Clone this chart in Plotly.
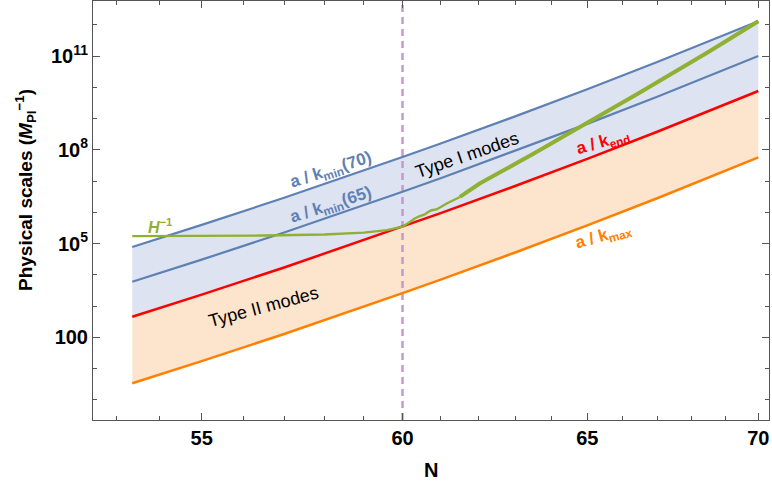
import plotly.graph_objects as go

# ---------------- data ----------------
N_lines = [53.37, 55, 57, 59, 60, 61, 63, 65, 67, 70]
a_kmin70 = [7.73e4, 3.94e5, 2.91e6, 2.15e7, 5.85e7, 1.59e8, 1.17e9, 8.67e9, 6.41e10, 1.29e12]
a_kmin65 = [6.0e3, 3.05e4, 2.26e5, 1.67e6, 4.54e6, 1.23e7, 9.12e7, 6.73e8, 4.98e9, 1.0e11]
a_kend = [455, 2.32e3, 1.71e4, 1.27e5, 3.44e5, 9.35e5, 6.92e6, 5.11e7, 3.78e8, 7.59e9]
a_kmax = [3.40, 17.3, 128, 948, 2.58e3, 7.0e3, 5.18e4, 3.82e5, 2.82e6, 5.68e7]

N_H_early = [53.37, 55, 56.5, 58, 59, 59.6, 60.0, 60.19, 60.32, 60.45, 60.58,
             60.67, 60.76, 60.89, 61.02, 61.16, 61.51]
H_inv_early = [1.72e5, 1.76e5, 1.80e5, 1.95e5, 2.24e5, 2.69e5, 3.47e5, 4.90e5, 6.31e5,
               7.59e5, 8.51e5, 1.02e6, 1.16e6, 1.23e6, 1.55e6, 1.91e6, 3.09e6]
N_H_late = [61.51, 62.04, 63.5, 65, 66.5, 68.5, 70]
H_inv_late = [3.09e6, 8.32e6, 7.41e7, 7.08e8, 6.76e9, 1.35e11, 1.29e12]

N_transition = 60

x_tick_vals = [55, 60, 65, 70]
x_minor_vals = [53, 54, 56, 57, 58, 59, 61, 62, 63, 64, 66, 67, 68, 69]
y_tick_vals = [1e2, 1e5, 1e8, 1e11]
y_tick_text = ["100", "10<sup>5</sup>", "10<sup>8</sup>", "10<sup>11</sup>"]
y_minor_vals = [1e0, 1e1, 1e3, 1e4, 1e6, 1e7, 1e9, 1e10, 1e12]

# ---------------- styling ----------------
W, H = 772, 484
ML, MR, MT, MB = 93, 3, 1, 64
PW, PH = W - ML - MR, H - MT - MB
x_range = [1.719909, 1.847111]
y_range = [-0.6459, 12.7597]

BLUE = "#5E81B5"
RED = "#FF0000"
ORANGE = "#FF8000"
GREEN = "#8FB032"
BLUE_FILL = "#DDE3F0"
ORANGE_FILL = "#FDE4CC"
DASH = "#C598D2"
FONT = "Liberation Sans, Arial, sans-serif"

fig = go.Figure()

# fills (no lines)
fig.add_trace(go.Scatter(x=N_lines, y=a_kend, mode="lines", line=dict(width=0),
                         hoverinfo="skip", showlegend=False))
fig.add_trace(go.Scatter(x=N_lines, y=a_kmin70, mode="lines", line=dict(width=0),
                         fill="tonexty", fillcolor=BLUE_FILL, hoverinfo="skip", showlegend=False))
fig.add_trace(go.Scatter(x=N_lines, y=a_kmax, mode="lines", line=dict(width=0),
                         hoverinfo="skip", showlegend=False))
fig.add_trace(go.Scatter(x=N_lines, y=a_kend, mode="lines", line=dict(width=0),
                         fill="tonexty", fillcolor=ORANGE_FILL, hoverinfo="skip", showlegend=False))

# vertical dashed line at transition
fig.add_trace(go.Scatter(x=[N_transition, N_transition],
                         y=[10 ** y_range[0], 10 ** y_range[1]],
                         mode="lines", line=dict(color=DASH, width=2.5, dash="7px,5px"),
                         showlegend=False))

# curves
fig.add_trace(go.Scatter(x=N_lines, y=a_kmax, mode="lines", line=dict(color=ORANGE, width=2.5),
                         showlegend=False))
fig.add_trace(go.Scatter(x=N_lines, y=a_kmin65, mode="lines", line=dict(color=BLUE, width=2.2),
                         showlegend=False))
fig.add_trace(go.Scatter(x=N_lines, y=a_kmin70, mode="lines", line=dict(color=BLUE, width=2.2),
                         showlegend=False))
fig.add_trace(go.Scatter(x=N_lines, y=a_kend, mode="lines", line=dict(color=RED, width=2.5),
                         showlegend=False))
fig.add_trace(go.Scatter(x=N_H_early, y=H_inv_early, mode="lines",
                         line=dict(color=GREEN, width=2.4), showlegend=False))
fig.add_trace(go.Scatter(x=N_H_late, y=H_inv_late, mode="lines",
                         line=dict(color=GREEN, width=4), showlegend=False))


def px(x, y):
    return (x - ML) / PW, (H - MB - y) / PH


def label(text, x, y, color, size, angle=0):
    xp, yp = px(x, y)
    fig.add_annotation(x=xp, y=yp, xref="paper", yref="paper", text=text,
                       showarrow=False, textangle=angle, xanchor="center", yanchor="middle",
                       font=dict(family=FONT, size=size, color=color))


label("<b>a / k<sub>min</sub>(70)</b>", 331, 171, BLUE, 17, -18)
label("<b>a / k<sub>min</sub>(65)</b>", 331, 206, BLUE, 17, -18)
label("<b><i>H</i><sup>−1</sup></b>", 160, 226, GREEN, 16, 0)
label("Type I modes", 467, 155, "black", 18, -19)
label("Type II modes", 263, 307, "black", 18, -15)
label("<b>a / k<sub>end</sub></b>", 603, 143, RED, 17, -16)
label("<b>a / k<sub>max</sub></b>", 603, 237, ORANGE, 17, -16)
label("<b>Physical scales (<i>M</i><sub>Pl</sub><sup>−1</sup>)</b>", 25, 190, "black", 19, -90)
label("<b>N</b>", 431, 470, "black", 20, 0)

axis_common = dict(
    showgrid=False, zeroline=False, showline=True, linecolor="#555555", linewidth=1,
    mirror="ticks", ticks="inside", ticklen=7, tickwidth=1, tickcolor="#555555",
    tickfont=dict(family=FONT, size=20, color="black", weight="bold"),
)

fig.update_xaxes(type="log", range=x_range, tickmode="array", tickvals=x_tick_vals,
                 ticktext=[str(v) for v in x_tick_vals],
                 minor=dict(tickmode="array", tickvals=x_minor_vals, ticks="inside",
                            ticklen=4, tickcolor="#555555", tickwidth=1),
                 **axis_common)
fig.update_yaxes(type="log", range=y_range, tickmode="array", tickvals=y_tick_vals,
                 ticktext=y_tick_text,
                 minor=dict(tickmode="array", tickvals=y_minor_vals, ticks="inside",
                            ticklen=4, tickcolor="#555555", tickwidth=1),
                 **axis_common)

fig.update_layout(width=W, height=H, margin=dict(l=ML, r=MR, t=MT, b=MB),
                  paper_bgcolor="white", plot_bgcolor="white", showlegend=False)

fig.write_html("out.html")
